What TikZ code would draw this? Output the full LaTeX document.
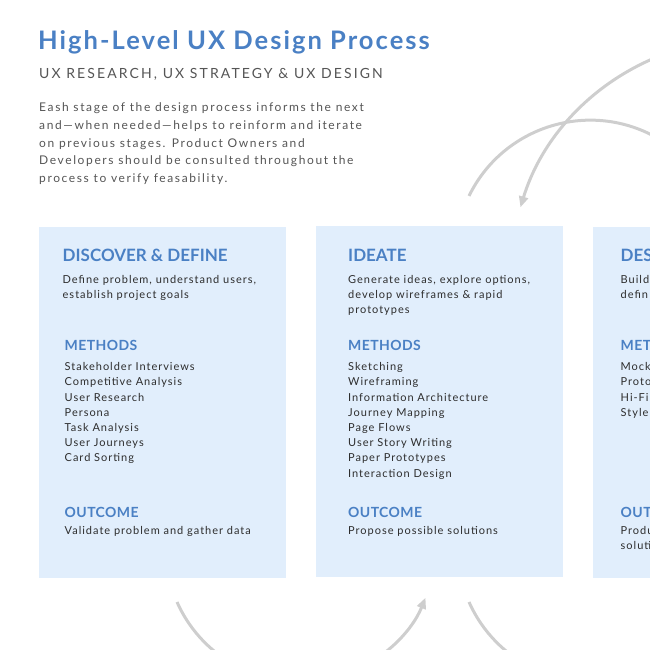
\documentclass[tikz,border=0pt]{standalone}
\usepackage{fontspec}
\setmainfont{Lato}
\usetikzlibrary{arrows.meta}
\usetikzlibrary{positioning}
\definecolor{mblue}{RGB}{74,128,196}
\definecolor{mbox}{RGB}{225,238,252}
\definecolor{mgray}{RGB}{85,85,85}
\definecolor{mtext}{RGB}{45,45,45}
\definecolor{marc}{RGB}{206,206,206}
\tikzset{stage/.style = {fill=mbox, inner sep=0, anchor=south west,
                         minimum width=247pt, minimum height=351pt}}
\tikzset{head/.style = {anchor=base west, inner sep=0, text=mblue,
                        font=\fontsize{17}{20}\selectfont\bfseries}}
\tikzset{sub/.style = {anchor=base west, inner sep=0, text=mblue,
                       font=\fontsize{14}{16}\selectfont\bfseries\addfontfeature{LetterSpace=3}}}
\tikzset{item/.style = {anchor=base west, inner sep=0, text=mtext,
                        font=\fontsize{11}{13}\selectfont\addfontfeature{LetterSpace=9}}}
\tikzset{flow/.style = {marc, line width=3pt, -{Triangle[length=11pt, width=9pt]}}}

\begin{document}
\begin{tikzpicture}[x=1pt, y=1pt]
      \useasboundingbox (0, 0) rectangle (650, 650);
      \clip (0, 0) rectangle (650, 650);
      % heading
      \node [anchor=base west, inner sep=0, text=mblue,
             font=\fontsize{25.5}{30}\selectfont\bfseries\addfontfeature{LetterSpace=8}] (title) at (38, 600)
            {High-Level UX Design Process};
      \node [anchor=base west, inner sep=0, text=mgray,
             font=\fontsize{14}{16}\selectfont\addfontfeature{LetterSpace=15}] (subtitle) at (39, 571.7)
            {UX RESEARCH, UX STRATEGY \& UX DESIGN};
      \foreach \t [count=\i] in {Eash stage of the design process informs the next,
                                 and---when needed---helps to reinform and iterate,
                                 on previous stages. Product Owners and,
                                 Developers should be consulted throughout the,
                                 process to verify feasability.} {
        \node [anchor=base west, inner sep=0, text=mgray,
               font=\fontsize{12}{14}\selectfont\addfontfeature{LetterSpace=13.5}] (intro\i) at (39, 538.3 - 17.7*\i + 17.7) {\t};
      }
      % stages
      \node [stage] (dd) at (39, 72) {};
      \node [stage] (id) at (316, 73) {};
      \node [stage] (ds) at (593, 72) {};
      % discover & define
      \node [head] (ddhead) at (62.5, 388.3) {DISCOVER \& DEFINE};
      \node [item] (dddesc1) at (62.5, 366.7) {Define problem, understand users,};
      \node [item] (dddesc2) at (62.5, 351.7) {establish project goals};
      \node [sub] (ddmeth) at (64.5, 299.3) {METHODS};
      \foreach \m [count=\i] in {Stakeholder Interviews, Competitive Analysis, User Research,
                                 Persona, Task Analysis, User Journeys, Card Sorting} {
        \node [item] (ddm\i) at (64.5, 279.3 - 15.2*\i + 15.2) {\m};
      }
      \node [sub] (ddout) at (64.5, 132.7) {OUTCOME};
      \node [item] (ddres) at (64.5, 115) {Validate problem and gather data};
      % ideate
      \node [head] (idhead) at (348, 388.3) {IDEATE};
      \node [item] (iddesc1) at (348, 366.7) {Generate ideas, explore options,};
      \node [item] (iddesc2) at (348, 351.7) {develop wireframes \& rapid};
      \node [item] (iddesc3) at (348, 336.7) {prototypes};
      \node [sub] (idmeth) at (348, 299.3) {METHODS};
      \foreach \m [count=\i] in {Sketching, Wireframing, Information Architecture, Journey Mapping,
                                 Page Flows, User Story Writing, Paper Prototypes, Interaction Design} {
        \node [item] (idm\i) at (348, 279.3 - 15.2*\i + 15.2) {\m};
      }
      \node [sub] (idout) at (348, 132.7) {OUTCOME};
      \node [item] (idres) at (348, 115) {Propose possible solutions};
      % design (cut off)
      \node [head] (dshead) at (620.5, 388.3) {DES};
      \node [item] (dsdesc1) at (620.5, 366.7) {Build};
      \node [item] (dsdesc2) at (620.5, 351.7) {defin};
      \node [sub] (dsmeth) at (620.5, 299.3) {MET};
      \foreach \m [count=\i] in {Mock, Proto, Hi-Fi, Style} {
        \node [item] (dsm\i) at (620.5, 279.3 - 15.2*\i + 15.2) {\m};
      }
      \node [sub] (dsout) at (620.5, 132.7) {OUT};
      \node [item] (dsres1) at (620.5, 115) {Produ};
      \node [item] (dsres2) at (620.5, 100) {soluti};
      % loops between stages
      \coordinate (dd-low) at (177, 48);
      \coordinate (id-low) at (469, 48);
      \coordinate (id-top) at (469, 454);
      \coordinate (ds-top) at (706.7, 607.4);
      \draw [flow] (dd-low) arc [start angle=204, end angle=338, radius=135];
      \draw [flow] (id-low) arc [start angle=204, end angle=338, radius=135];
      \draw [flow] (id-top) arc [start angle=154, end angle=26, radius=135];
      \draw [flow] (ds-top) arc [start angle=100, end angle=163, radius=238];
    \end{tikzpicture}
\end{document}
